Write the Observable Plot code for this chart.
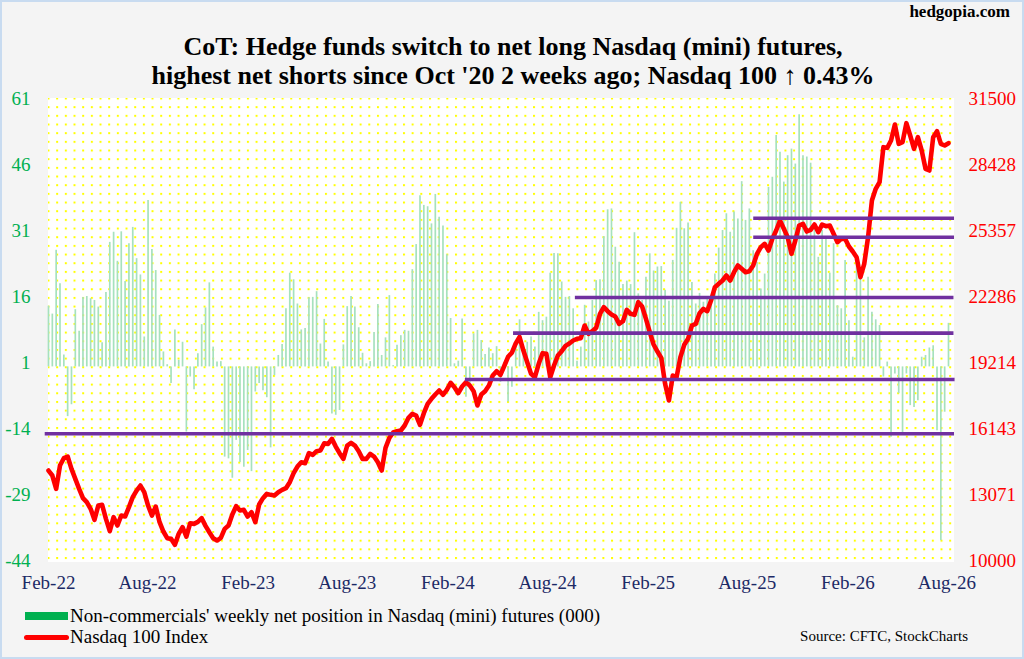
<!DOCTYPE html>
<html>
<head>
<meta charset="utf-8">
<script src="https://cdn.jsdelivr.net/npm/d3@7"></script>
<script src="https://cdn.jsdelivr.net/npm/@observablehq/plot@0.6"></script>
<style>
  html, body { margin: 0; padding: 0; background: #f4f4f4; }
  #wrap { position: relative; width: 1024px; height: 659px; overflow: hidden; background: #f4f4f4;
          font-family: "Liberation Serif", "Times New Roman", serif; color: #000; }
  #border { position: absolute; left: 0; top: 0; width: 1024px; height: 659px; box-sizing: border-box;
            border: 2px solid #c8dbf0; pointer-events: none; }
  #chart { position: absolute; left: 0; top: 0; }
  .abs { position: absolute; white-space: nowrap; }
  #site { right: 14px; top: 2px; font-weight: bold; font-size: 17px; line-height: 20px; }
  #title { left: 0; width: 1026px; top: 32px; text-align: center; font-weight: bold; font-size: 26px; line-height: 29px; }
  .leg { font-size: 19px; line-height: 22px; }
  .sw-green { position: absolute; left: 25px; top: 612px; width: 43px; height: 8px; background: #00b050; }
  .sw-red { position: absolute; left: 24px; top: 635px; width: 45px; height: 5px; border-radius: 3px; background: #ff0000; }
  #source { right: 56px; top: 627px; font-size: 15px; line-height: 18px; }
</style>
</head>
<body>
<div id="wrap">
  <div id="chart"></div>
  <div class="abs" id="site">hedgopia.com</div>
  <div class="abs" id="title">CoT: Hedge funds switch to net long Nasdaq (mini) futures,<br>highest net shorts since Oct '20 2 weeks ago; Nasdaq 100 ↑ 0.43%</div>
  <div class="sw-green"></div>
  <div class="abs leg" style="left:70px; top:605px;">Non-commercials' weekly net position in Nasdaq (mini) futures (000)</div>
  <div class="sw-red"></div>
  <div class="abs leg" style="left:70px; top:626px;">Nasdaq 100 Index</div>
  <div class="abs" id="source">Source: CFTC, StockCharts</div>
  <div id="border"></div>
</div>
<script>
// ---- data ----
const startDate = "2022-02-01"; // first weekly observation

// Non-commercials' weekly net position in Nasdaq (mini) futures (000), weekly
const netPositions = [
  13.8, 12, 26.5, 18.9, 2.7, -11.3, -8.6, 13, 8.1, 15.8,
  16, 15.5, 15.1, 13.6, 5.5, 16.9, 28.3, 30.6, 24, 30.7,
  19.4, 28, 31.7, 24.6, 20.9, 6.8, 37.8, 26.7, 21.9, 11.7,
  3.4, 0.5, -3.8, 8.4, 1.5, 5.6, -14.8, -2.3, -5.2, 3,
  9.6, 13.4, 19.1, 4.5, 1.1, 1.2, -20.5, -20.9, -25.3, -16.7,
  -21.7, -22.8, -19, -23.8, -5.7, -3.8, -5.4, -7, -18.4, -2,
  2.6, 5.1, 13.2, 21.3, 19.8, 14.3, 8.4, 8.7, 15.7, 15.8,
  17.1, 5.2, 10.8, 1.1, -10.7, -11, -9.9, 5, 13.7, 16,
  13.6, 8.9, 3.1, 0.7, 1.2, 7.8, 14.2, 2.6, 6.6, 16.2,
  0.3, 4.9, 7.1, 8.3, 8.1, 22.1, 27.8, 38.9, 36.7, 36.4,
  32.5, 39.2, 34, 32, 25.5, 11, 0.7, 1.3, 10.9, -6.9,
  -3.9, 7.5, 8.3, 6, 2.8, 4.3, 3, 4.6, -3.5, 1,
  -8, -4.6, 4.6, 10.7, 3.7, 5.6, 6.8, 4.5, 12.4, 10.5,
  11.3, 21.3, 25.8, 25.7, 19.3, 15.8, 16, 13.2, 1.3, 4.5,
  14, 10.2, 15.1, 19.6, 19.8, 29.6, 35.7, 35.9, 27.2, 23.8,
  18.7, 19.5, 18.7, 30.5, 16.6, 15.1, 20.4, 25.7, 21.8, 22.7,
  22.8, 17.4, 14.9, 24.2, 31.5, 37.4, 31.4, 32.7, 19.2, 14.3,
  16.7, 14.7, 15.8, 14.3, 21.1, 27, 31, 34.8, 30.6, 35.2,
  33.6, 42.1, 33.3, 35.9, 26.4, 23.8, 17.7, 21.1, 40.8, 43.1,
  52.6, 48.8, 42, 48, 49.5, 46.1, 57.3, 48, 47.7, 46.3,
  32.1, 24.9, 31, 29, 21.3, 28, 13.9, 13.2, 24.2, 10.5,
  2.2, 24.9, 20.4, 6.6, 20.4, 12.4, 10.7, 9.4, -2.3, 1.1,
  -16, -1.6, -6.1, -15.2, -1.6, -8.8, -9.2, -7.7, 2.2, 2.6,
  4.3, 4.8, -14.5, -39.5, -10.3, 9.9
];

// Nasdaq 100 Index, weekly
const nasdaq100 = [
  14187, 13955, 13334, 14420, 14761, 14839, 14265, 13799, 13334, 12900,
  12713, 12403, 11891, 12558, 12589, 11938, 11364, 12015, 11628, 12093,
  12046, 12481, 12946, 13256, 13489, 13179, 12558, 12093, 12512, 11783,
  11349, 11038, 11007, 10728, 11240, 11550, 11116, 11736, 11705, 11798,
  11969, 11612, 11317, 11038, 10929, 11053, 11472, 11628, 12140, 12527,
  12326, 12357, 12046, 12248, 11783, 12605, 12900, 13101, 13055, 13024,
  13179, 13288, 13365, 13644, 14063, 14373, 14575, 14528, 14994, 14916,
  15087, 15118, 15459, 15428, 15661, 15304, 14994, 14730, 15351, 15475,
  15351, 15087, 14730, 14730, 14963, 14839, 14575, 14188, 15242, 15708,
  15956, 16018, 16049, 16282, 16639, 16825, 16747, 16313, 16856, 17290,
  17523, 17725, 17911, 17709, 17942, 18267, 18066, 17787, 18097, 18298,
  18143, 17880, 17213, 17725, 17880, 18143, 18609, 18811, 18640, 19050,
  19480, 19670, 20100, 20400, 19772, 19229, 18686, 18531, 19152, 19648,
  19617, 18531, 19074, 19539, 19741, 19989, 20098, 20238, 20315, 20346,
  20936, 20548, 20672, 20827, 21479, 21789, 21603, 21448, 21355, 21013,
  21137, 21665, 21479, 21432, 22021, 21820, 21246, 20625, 20051, 19725,
  19431, 18221, 17445, 18609, 18531, 19462, 20036, 20315, 20936, 21013,
  21510, 21711, 21603, 22099, 22720, 22875, 23030, 23263, 23030, 23418,
  23728, 23573, 23418, 23464, 23728, 24271, 24581, 24736, 24426, 24969,
  25357, 25822, 25435, 25047, 24271, 24892, 25589, 25667, 25310, 25388,
  25636, 25280, 25636, 25559, 25590, 25202, 24814, 24969, 24969, 24612,
  24379, 24116, 23185, 23806, 25047, 26753, 27296, 27606, 29235, 29204,
  29545, 30290, 29390, 29468, 30352, 29778, 29158, 29700, 29080, 28227,
  28149, 29700, 29980, 29390, 29313, 29421
];

// axes
const leftTicks = [61, 46, 31, 16, 1, -14, -29, -44];
const rightTickLabels = ["31500", "28428", "25357", "22286", "19214", "16143", "13071", "10000"];
const xTickLabels = ["Feb-22", "Aug-22", "Feb-23", "Aug-23", "Feb-24", "Aug-24", "Feb-25", "Aug-25", "Feb-26", "Aug-26"];

// support / resistance levels on the Nasdaq 100 (price, from, to)
const levelPrices = [15900, 18420, 20580, 22240, 25045, 25930];
const levelStarts = ["2022-01-26", "2024-03-04", "2024-05-31", "2024-09-21", "2025-08-13", "2025-08-13"];
const levelEnds   = ["2026-08-15", "2026-08-16", "2026-08-14", "2026-08-14", "2026-08-15", "2026-08-15"];

// ---- build ----
const parseDay = d3.utcParse("%Y-%m-%d");
const start = parseDay(startDate);
const dates = netPositions.map((_, i) => d3.utcDay.offset(start, 7 * i));
const rows = dates.map((date, i) => ({date, net: netPositions[i], price: nasdaq100[i]}));

const leftDomain = [leftTicks[leftTicks.length - 1], leftTicks[0]];
const priceDomain = [+rightTickLabels[rightTickLabels.length - 1], +rightTickLabels[0]];
const toLeft = d3.scaleLinear(priceDomain, leftDomain);

const levels = levelPrices.map((p, i) => ({price: p, start: parseDay(levelStarts[i]), end: parseDay(levelEnds[i])}));

const rightLabelMap = new Map(leftTicks.map((t, i) => [t, rightTickLabels[i]]));
const parseTick = d3.utcParse("%b-%y");
const xTickDates = xTickLabels.map(parseTick);
const xLabelMap = new Map(xTickDates.map((d, i) => [+d, xTickLabels[i]]));

const chart = Plot.plot({
  width: 1024,
  height: 600,
  marginLeft: 48,
  marginRight: 76,
  marginTop: 98,
  marginBottom: 40,
  style: {background: "transparent", fontFamily: "Liberation Serif, Times New Roman, serif", overflow: "visible"},
  x: {type: "utc", domain: [dates[0], dates[dates.length - 1]], label: null},
  y: {domain: leftDomain, label: null},
  marks: [
    Plot.ruleX(rows, {x: "date", y1: 0, y2: "net", stroke: "#a6e1bd", strokeWidth: 1.7}),
    Plot.line(rows, {x: "date", y: d => toLeft(d.price), stroke: "#ff0000", strokeWidth: 4.6,
                     strokeLinejoin: "round", strokeLinecap: "round"}),
    Plot.ruleY(levels, {y: d => toLeft(d.price), x1: "start", x2: "end", stroke: "#7030a0", strokeWidth: 3.6}),
    Plot.axisY(leftTicks, {anchor: "left", label: null, tickSize: 0, tickPadding: 18, color: "#00b050", fontSize: 19,
                           tickFormat: d => String(d)}),
    Plot.axisY(leftTicks, {anchor: "right", label: null, tickSize: 0, tickPadding: 20, color: "#ff0000", fontSize: 19,
                           tickFormat: d => rightLabelMap.get(d)}),
    Plot.axisX(xTickDates, {anchor: "bottom", label: null, tickSize: 0, tickPadding: 15, color: "#1c2a66", fontSize: 19,
                            tickFormat: d => xLabelMap.get(+d)})
  ]
});

// dotted plot-area background
const svg = d3.select(chart);
const [x0, x1] = chart.scale("x").range;
const [yb, yt] = chart.scale("y").range;
const step = 8.67;
const defs = svg.insert("defs", ":first-child");
const pat = defs.append("pattern").attr("id", "dotgrid").attr("patternUnits", "userSpaceOnUse")
  .attr("x", x0 - 0.5).attr("y", yt - 0.5).attr("width", step).attr("height", step);
pat.append("rect").attr("width", step).attr("height", step).attr("fill", "#ffffff");
pat.append("rect").attr("width", 2).attr("height", 2).attr("fill", "#ffff00");
svg.insert("rect", "g")
  .attr("x", x0).attr("y", yt).attr("width", x1 - x0 + 6).attr("height", yb - yt + 2)
  .attr("fill", "url(#dotgrid)");

document.getElementById("chart").appendChild(chart);
</script>
</body>
</html>
